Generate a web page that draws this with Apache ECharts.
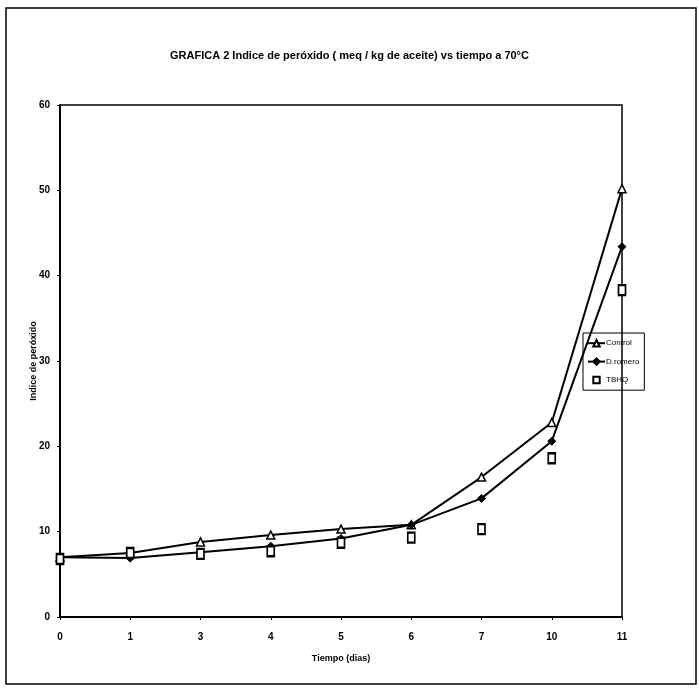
<!DOCTYPE html>
<html>
<head>
<meta charset="utf-8">
<script src="https://cdn.jsdelivr.net/npm/echarts@6/dist/echarts.min.js"></script>
<style>
  html, body { margin: 0; padding: 0; background: #fff; }
</style>
</head>
<body>
<div id="chart" style="width: 699px; height: 692px"></div>
<script>
// dias
var dias = ['0', '1', '3', '4', '5', '6', '7', '10', '11'];
var control = [7.0, 7.5, 8.8, 9.6, 10.3, 10.8, 16.4, 22.8, 50.2];
var romero = [7.0, 6.9, 7.6, 8.3, 9.2, 10.8, 13.9, 20.6, 43.4];
var tbhq = [6.8, 7.5, 7.4, 7.7, 8.7, 9.3, 10.3, 18.6, 38.3];

var fuente = 'Liberation Sans';
var chart = echarts.init(document.getElementById('chart'));

chart.setOption({
  backgroundColor: '#fff',
  animation: false,
  title: {
    text: 'GRAFICA 2 Indice de peróxido ( meq / kg de aceite) vs tiempo a 70°C',
    left: 'center',
    top: 45,
    textStyle: { fontFamily: fuente, fontSize: 11, fontWeight: 'bold', color: '#000' }
  },
  graphic: [{
    type: 'rect',
    shape: { x: 6, y: 8, width: 690, height: 676 },
    style: { fill: 'none', stroke: '#000', lineWidth: 1.5 }
  }],
  legend: {
    orient: 'vertical',
    left: 583,
    top: 333,
    padding: [6, 5, 6, 4],
    itemGap: 10,
    itemWidth: 17,
    itemHeight: 8,
    borderColor: '#000',
    borderWidth: 1,
    borderRadius: 0,
    textStyle: { fontFamily: fuente, fontSize: 8, color: '#000', padding: [0, 0, 0, -4] },
    data: ['Control', 'D.romero', 'TBHQ']
  },
  grid: {
    left: 60,
    top: 105,
    width: 562,
    height: 512,
    show: true,
    borderColor: '#000',
    borderWidth: 1.5
  },
  xAxis: {
    type: 'category',
    data: dias,
    boundaryGap: false,
    name: 'Tiempo (dias)',
    nameLocation: 'middle',
    nameGap: 37,
    nameMoveOverlap: false,
    nameTextStyle: { fontFamily: fuente, fontSize: 9, fontWeight: 'bold', color: '#000' },
    axisLine: { lineStyle: { color: '#000', width: 2 } },
    axisTick: { length: 3, lineStyle: { color: '#000' } },
    axisLabel: { fontFamily: fuente, fontSize: 10, fontWeight: 'bold', color: '#000', margin: 15 },
    splitLine: { show: false }
  },
  yAxis: {
    type: 'value',
    min: 0,
    max: 60,
    interval: 10,
    name: 'Indice de peróxido',
    nameLocation: 'middle',
    nameGap: 22,
    nameMoveOverlap: false,
    nameTextStyle: { fontFamily: fuente, fontSize: 9, fontWeight: 'bold', color: '#000' },
    axisLine: { show: true, lineStyle: { color: '#000', width: 2 } },
    axisTick: { show: true, length: 3, lineStyle: { color: '#000' } },
    axisLabel: { fontFamily: fuente, fontSize: 10, fontWeight: 'bold', color: '#000', margin: 10 },
    splitLine: { show: false }
  },
  series: [
    {
      name: 'Control',
      type: 'line',
      data: control,
      symbol: 'triangle',
      symbolSize: 8,
      lineStyle: { color: '#000', width: 2 },
      itemStyle: { color: '#fff', borderColor: '#000', borderWidth: 1.5 }
    },
    {
      name: 'D.romero',
      type: 'line',
      data: romero,
      symbol: 'diamond',
      symbolSize: 8,
      lineStyle: { color: '#000', width: 2 },
      itemStyle: { color: '#000', borderColor: '#000', borderWidth: 1 }
    },
    {
      name: 'TBHQ',
      type: 'line',
      data: tbhq,
      symbol: 'rect',
      symbolSize: [7, 10],
      lineStyle: { opacity: 0 },
      itemStyle: { color: '#fff', borderColor: '#000', borderWidth: 2 }
    }
  ]
});
</script>
</body>
</html>
